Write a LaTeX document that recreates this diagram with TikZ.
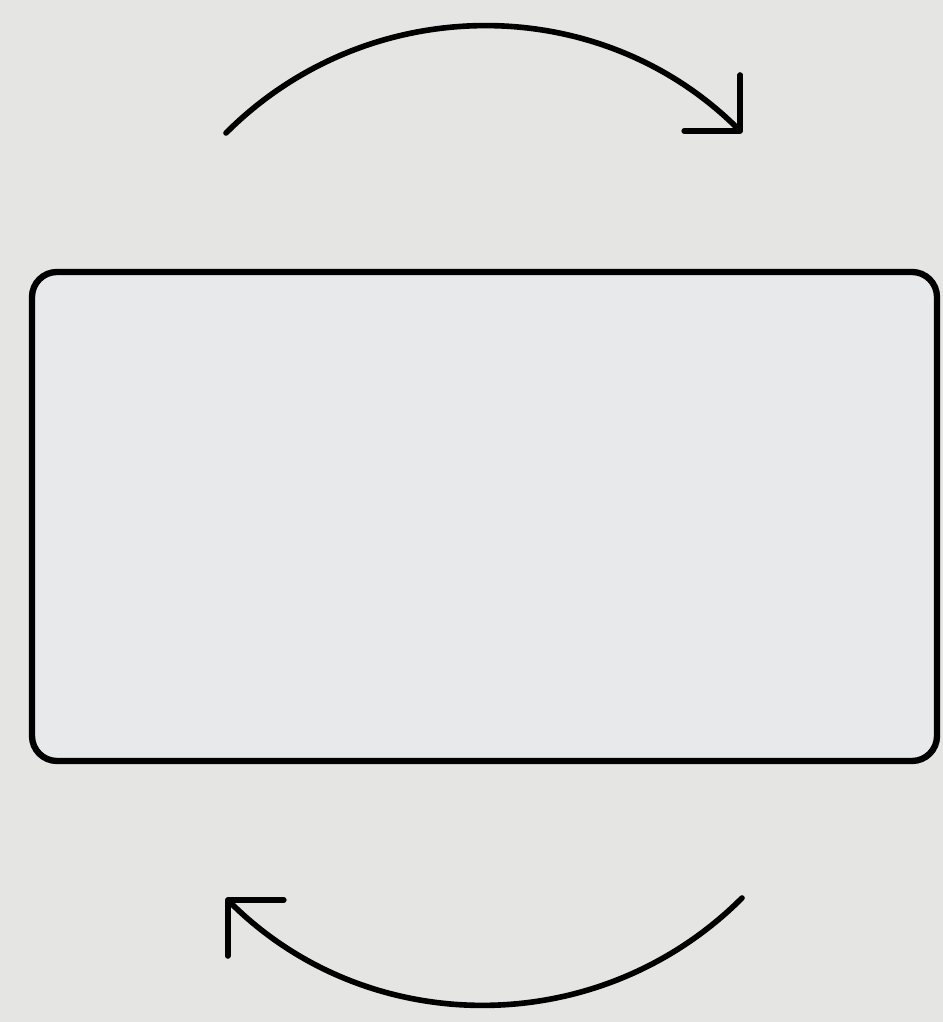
\documentclass[tikz,border=0pt]{standalone}
\usepackage{tikz}
\usetikzlibrary{arrows.meta}
\definecolor{bggray}{RGB}{229,229,228}
\definecolor{boxgray}{RGB}{232,233,234}

\begin{document}
\begin{tikzpicture}
        %background
            \fill[bggray] (0,0) rectangle (18.86,20.44);
            \useasboundingbox (0,0) rectangle (18.86,20.44);
        %box
            \filldraw[color=black, fill=boxgray, line width=3.6pt, rounded corners=0.5cm] (0.64,5.22) rectangle (18.74,15.0);
        % arrows
            \coordinate (topstart) at (4.52,17.78);
            \coordinate (botstart) at (14.84,2.48);
            \draw[line width=3.2pt, line cap=round, -{Straight Barb[angle=90:1.12cm, round]}] (topstart) arc[start angle=135, end angle=45, radius=7.3];
            \draw[line width=3.2pt, line cap=round, -{Straight Barb[angle=90:1.12cm, round]}] (botstart) arc[start angle=-45, end angle=-135, radius=7.3];
    \end{tikzpicture}
\end{document}
